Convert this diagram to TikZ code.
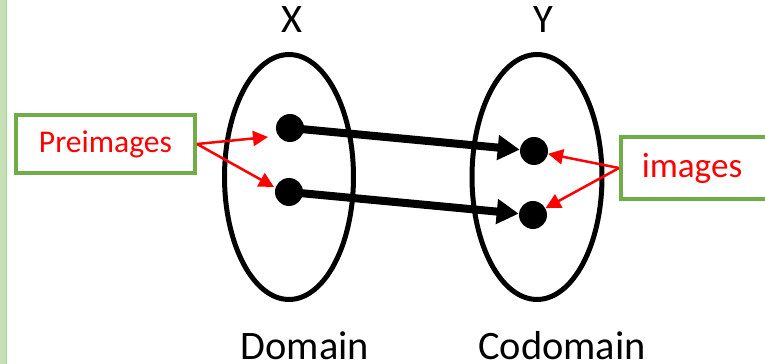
\documentclass[tikz,border=0pt]{standalone}
\usepackage{fontspec}
\setmainfont{Carlito}
\usepackage{xcolor}
\usepackage{tikz}
\usetikzlibrary{shapes.geometric, arrows.meta, positioning}
\definecolor{boxgreen}{HTML}{70AD47}
\definecolor{bargreen}{HTML}{C5E0B4}
\definecolor{baredge}{HTML}{A9D18E}
\tikzset{
  setoval/.style={ellipse, draw=black, line width=0.1cm, inner sep=0pt,
                  minimum width=2.58cm, minimum height=4.9cm},
  elem/.style={circle, fill=black, inner sep=0pt, minimum size=0.56cm},
  tagbox/.style={rectangle, draw=boxgreen, line width=0.08cm, fill=white,
                 text=red, font=\fontsize{18}{20}\selectfont,
                 minimum height=1.2cm},
  maparrow/.style={-{Triangle[length=0.44cm, width=0.48cm]},
                   line width=0.16cm, draw=black},
  tagarrow/.style={-{Triangle[length=0.3cm, width=0.3cm]},
                   line width=0.05cm, draw=red},
  setname/.style={anchor=base, inner sep=0pt,
                  font=\fontsize{23}{26}\selectfont},
}

\begin{document}
\begin{tikzpicture}[x=0.02cm, y=-0.02cm]

  \clip (0,0) rectangle (765,364);
  \useasboundingbox (0,0) rectangle (765,364);

  % Side bar
  \fill[bargreen] (0,0) rectangle (6,364);
  \draw[baredge, line width=0.02cm] (6,0) -- (6,364);

  % Sets
  \node[setoval] (dom)   at (289,177) {};
  \node[setoval, minimum width=2.6cm] (codom) at (537,177) {};

  % Set names
  \node[setname] (xname) at (292,33) {X};
  \node[setname] (yname) at (543,33) {Y};
  \node[setname] (domname)   at (305,360) {Domain};
  \node[setname] (codomname) at (562,360) {Codomain};

  % Elements
  \node[elem] (a1) at (290,128) {};
  \node[elem] (a2) at (289,192) {};
  \node[elem] (b1) at (534,151) {};
  \node[elem] (b2) at (533,215) {};

  % Mapping
  \draw[maparrow] (a1.center) -- (b1);
  \draw[maparrow] (a2.center) -- (b2);

  % Labels
  \node[tagbox, minimum width=3.58cm, minimum height=1.16cm] (pre) at (105.5,144) {Preimages};
  \node[tagbox, minimum width=2.94cm, minimum height=1.24cm,
        font=\fontsize{20}{22}\selectfont] (img) at (694.5,168) {\hspace*{-0.1cm}images};

  \coordinate (preTipA) at (268,137);
  \coordinate (preTipB) at (274,187);
  \draw[tagarrow] (pre.east) -- (preTipA);
  \draw[tagarrow] (pre.east) -- (preTipB);
  \draw[tagarrow] (img.west) -- (b1);
  \draw[tagarrow] (img.west) -- (b2);

\end{tikzpicture}
\end{document}
